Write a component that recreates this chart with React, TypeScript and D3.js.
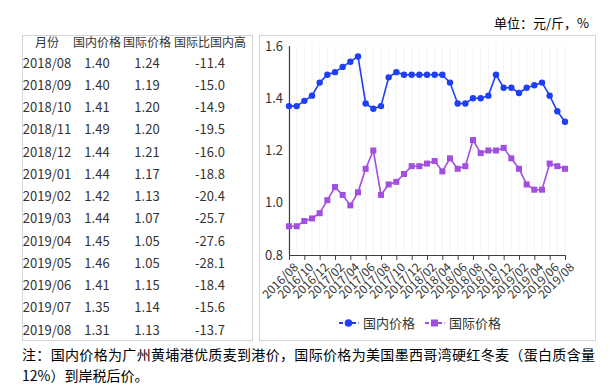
import React, { useEffect, useRef } from 'react';
import * as d3 from 'd3';

const months = [
  '2016/08', '2016/09', '2016/10', '2016/11', '2016/12', '2017/01', '2017/02', '2017/03',
  '2017/04', '2017/05', '2017/06', '2017/07', '2017/08', '2017/09', '2017/10', '2017/11',
  '2017/12', '2018/01', '2018/02', '2018/03', '2018/04', '2018/05', '2018/06', '2018/07',
  '2018/08', '2018/09', '2018/10', '2018/11', '2018/12', '2019/01', '2019/02', '2019/03',
  '2019/04', '2019/05', '2019/06', '2019/07', '2019/08',
];

const domestic = [
  1.37, 1.37, 1.39, 1.41, 1.46, 1.49, 1.50, 1.52, 1.54, 1.56, 1.38, 1.36, 1.37,
  1.48, 1.50, 1.49, 1.49, 1.49, 1.49, 1.49, 1.49, 1.46, 1.38, 1.38,
  1.40, 1.40, 1.41, 1.49, 1.44, 1.44, 1.42, 1.44, 1.45, 1.46, 1.41, 1.35, 1.31,
];

const international = [
  0.91, 0.91, 0.93, 0.94, 0.96, 1.01, 1.06, 1.03, 0.99, 1.04, 1.13, 1.20, 1.03,
  1.07, 1.08, 1.11, 1.14, 1.14, 1.15, 1.16, 1.12, 1.17, 1.13, 1.14,
  1.24, 1.19, 1.20, 1.20, 1.21, 1.17, 1.13, 1.07, 1.05, 1.05, 1.15, 1.14, 1.13,
];

// 国际比国内高 (%), last 13 months
const ratio = [-11.4, -15.0, -14.9, -19.5, -16.0, -18.8, -20.4, -25.7, -27.6, -28.1, -18.4, -15.6, -13.7];

const tableHeaders = ['月份', '国内价格', '国际价格', '国际比国内高'];
const yTicks = [0.8, 1.0, 1.2, 1.4, 1.6];

const BLUE = '#1f3ff5';
const PURPLE = '#a24ee0';
const FONT = '"Noto Sans CJK SC", "Noto Sans", sans-serif';

const W = 616;
const H = 387;

export default function App() {
  const svgRef = useRef<SVGSVGElement>(null);

  useEffect(() => {
    if (!svgRef.current) return;
    const svg = d3.select(svgRef.current);
    svg.selectAll('*').remove();

    svg.append('rect').attr('width', W).attr('height', H).attr('fill', '#fff');

    // unit label
    svg.append('text')
      .attr('x', 589)
      .attr('y', 28)
      .attr('text-anchor', 'end')
      .attr('font-size', '13px')
      .attr('fill', '#000')
      .text('单位：元/斤，%');

    // ---- table ----
    svg.append('rect')
      .attr('x', 22.5).attr('y', 35.5)
      .attr('width', 230).attr('height', 305)
      .attr('fill', 'none').attr('stroke', '#d4d4d4');

    const colX = [47, 97, 147, 210];
    const tbl = svg.append('g').attr('font-family', FONT);
    tbl.selectAll('.th')
      .data(tableHeaders)
      .enter()
      .append('text')
      .attr('class', 'th')
      .attr('x', (_, i) => colX[i])
      .attr('y', 47)
      .attr('text-anchor', 'middle')
      .attr('font-size', '12px')
      .attr('fill', '#333')
      .text((d) => d);

    const tableMonths = months.slice(24);
    const rows = tableMonths.map((m, i) => [
      m,
      domestic[24 + i].toFixed(2),
      international[24 + i].toFixed(2),
      ratio[i].toFixed(1),
    ]);
    rows.forEach((row, r) => {
      tbl.selectAll(`.r${r}`)
        .data(row)
        .enter()
        .append('text')
        .attr('x', (_, i) => colX[i])
        .attr('y', 67.5 + r * 22.25)
        .attr('text-anchor', 'middle')
        .attr('font-size', '13px')
        .attr('fill', '#333')
        .text((d) => d);
    });

    // ---- chart ----
    svg.append('rect')
      .attr('x', 259.5).attr('y', 35.5)
      .attr('width', 336).attr('height', 305)
      .attr('fill', 'none').attr('stroke', '#d4d4d4');

    const x = d3.scalePoint<string>().domain(months).range([289, 565]);
    const y = d3.scaleLinear().domain([0.8, 1.6]).range([255, 46]);

    const g = svg.append('g').attr('font-family', FONT);

    // faint vertical grid
    g.selectAll('.grid')
      .data(months)
      .enter()
      .append('line')
      .attr('x1', (d) => x(d)!)
      .attr('x2', (d) => x(d)!)
      .attr('y1', 46)
      .attr('y2', 255)
      .attr('stroke', '#f3f3f3');

    // axes
    g.append('line')
      .attr('x1', 289.5).attr('x2', 289.5)
      .attr('y1', 46).attr('y2', 255)
      .attr('stroke', '#404040').attr('stroke-width', 1.2);
    g.append('line')
      .attr('x1', 289).attr('x2', 566)
      .attr('y1', 255.5).attr('y2', 255.5)
      .attr('stroke', '#404040').attr('stroke-width', 1.2);

    const labelMonths = months.filter((_, i) => i % 2 === 0);
    g.selectAll('.tick')
      .data(labelMonths)
      .enter()
      .append('line')
      .attr('x1', (d) => x(d)! + 0.5)
      .attr('x2', (d) => x(d)! + 0.5)
      .attr('y1', 255)
      .attr('y2', 260)
      .attr('stroke', '#404040');

    g.selectAll('.xl')
      .data(labelMonths)
      .enter()
      .append('text')
      .attr('transform', (d) => `translate(${x(d)! + 7},${265}) rotate(-45)`)
      .attr('text-anchor', 'end')
      .attr('dy', '0.35em')
      .attr('font-size', '12px')
      .attr('fill', '#333')
      .text((d) => d);

    g.selectAll('.yl')
      .data(yTicks)
      .enter()
      .append('text')
      .attr('x', 283)
      .attr('y', (d) => y(d))
      .attr('dy', '0.35em')
      .attr('text-anchor', 'end')
      .attr('font-size', '13px')
      .attr('fill', '#333')
      .text((d) => d.toFixed(1));

    const line = d3.line<number>()
      .x((_, i) => x(months[i])!)
      .y((d) => y(d));

    g.append('path')
      .attr('d', line(international))
      .attr('fill', 'none')
      .attr('stroke', PURPLE)
      .attr('stroke-width', 1.6);
    g.selectAll('.sq')
      .data(international)
      .enter()
      .append('rect')
      .attr('x', (_, i) => x(months[i])! - 3)
      .attr('y', (d) => y(d) - 3)
      .attr('width', 6)
      .attr('height', 6)
      .attr('fill', PURPLE);

    g.append('path')
      .attr('d', line(domestic))
      .attr('fill', 'none')
      .attr('stroke', BLUE)
      .attr('stroke-width', 1.6);
    g.selectAll('.dot')
      .data(domestic)
      .enter()
      .append('circle')
      .attr('cx', (_, i) => x(months[i])!)
      .attr('cy', (d) => y(d))
      .attr('r', 3.2)
      .attr('fill', BLUE);

    // legend
    const legend = [
      { name: '国内价格', color: BLUE, shape: 'circle', x0: 339 },
      { name: '国际价格', color: PURPLE, shape: 'square', x0: 425 },
    ];
    legend.forEach((l) => {
      const lg = g.append('g');
      lg.append('line')
        .attr('x1', l.x0).attr('x2', l.x0 + 20)
        .attr('y1', 323).attr('y2', 323)
        .attr('stroke', l.color).attr('stroke-width', 1.8)
        .attr('stroke-dasharray', '4,2.5');
      if (l.shape === 'circle') {
        lg.append('circle').attr('cx', l.x0 + 9.5).attr('cy', 323).attr('r', 3.8).attr('fill', l.color);
      } else {
        lg.append('rect').attr('x', l.x0 + 6).attr('y', 319.5).attr('width', 7).attr('height', 7).attr('fill', l.color);
      }
      lg.append('text')
        .attr('x', l.x0 + 24)
        .attr('y', 323)
        .attr('dy', '0.35em')
        .attr('font-size', '13px')
        .attr('fill', '#333')
        .text(l.name);
    });

    // note
    svg.append('text')
      .attr('x', 22)
      .attr('y', 360)
      .attr('font-size', '14px')
      .attr('fill', '#000')
      .attr('textLength', 573)
      .attr('lengthAdjust', 'spacing')
      .text('注：国内价格为广州黄埔港优质麦到港价，国际价格为美国墨西哥湾硬红冬麦（蛋白质含量');
    svg.append('text')
      .attr('x', 22)
      .attr('y', 381)
      .attr('font-size', '14px')
      .attr('fill', '#000')
      .text('12%）到岸税后价。');
  }, []);

  return (
    <svg
      ref={svgRef}
      width={W}
      height={H}
      style={{ position: 'absolute', left: 0, top: 0, fontFamily: FONT }}
    />
  );
}
